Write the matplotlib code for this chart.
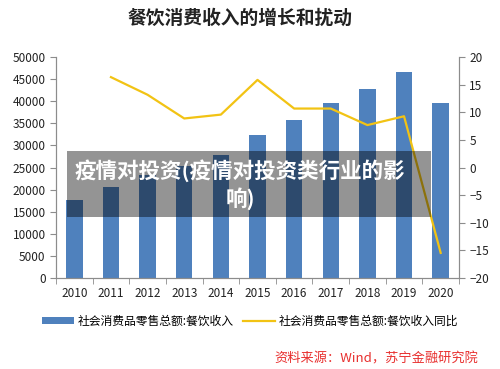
import matplotlib
matplotlib.use("Agg")
import matplotlib.pyplot as plt
from matplotlib.patches import Rectangle
import numpy as np

plt.rcParams['font.family'] = ['Noto Sans CJK SC', 'DejaVu Sans']

# data
years = ["2010", "2011", "2012", "2013", "2014", "2015", "2016", "2017", "2018", "2019", "2020"]
revenue = [17648, 20543, 23283, 25392, 27860, 32310, 35799, 39644, 42716, 46721, 39527]
growth_years = ["2011", "2012", "2013", "2014", "2015", "2016", "2017", "2018", "2019", "2020"]
growth = [16.4, 13.2, 8.9, 9.6, 15.9, 10.7, 10.7, 7.7, 9.3, -15.5]

bar_color = "#4f81bd"
line_color = "#f2c314"
axis_color = "#8c8c8c"

fig = plt.figure(figsize=(5, 3.69), dpi=100)
ax = fig.add_axes([0.112, 0.2474, 0.806, 0.5973])
ax2 = ax.twinx()

x = np.arange(len(years))
ax.bar(x, revenue, width=0.45, color=bar_color, label="社会消费品零售总额:餐饮收入")
gx = [years.index(y) for y in growth_years]
ax2.plot(gx, growth, color=line_color, lw=1.6, label="社会消费品零售总额:餐饮收入同比")

ax.set_xlim(-0.5, len(years) - 0.5)
ax.set_ylim(0, 50000)
ax.set_yticks(range(0, 50001, 5000))
ax2.set_ylim(-20, 20)
ax2.set_yticks(range(-20, 21, 5))

ax.set_xticks(x)
ax.set_xticklabels(years)
ax.set_xticks(np.arange(-0.5, len(years)), minor=True)
ax.tick_params(axis="x", which="major", length=0, pad=7, labelsize=8.5, colors="#222222")
ax.tick_params(axis="x", which="minor", length=4, color=axis_color, direction="out")
ax.tick_params(axis="y", length=4, color=axis_color, labelsize=8.5, labelcolor="#222222")
ax2.tick_params(axis="y", length=4, color=axis_color, labelsize=8.5, labelcolor="#222222")

for a in (ax, ax2):
    a.spines["top"].set_visible(False)
    for s in ("left", "right", "bottom"):
        a.spines[s].set_color(axis_color)
        a.spines[s].set_linewidth(0.8)

fig.text(0.48, 0.951, "餐饮消费收入的增长和扰动", ha="center", va="center",
         fontsize=13.5, fontweight="bold", color="#222222")

# legend
h1, l1 = ax.get_legend_handles_labels()
h2, l2 = ax2.get_legend_handles_labels()
fig.legend(h1 + h2, l1 + l2, loc="center", bbox_to_anchor=(0.5, 0.13), ncol=2,
           frameon=False, fontsize=8.5, handlelength=2.7, handleheight=0.6,
           columnspacing=0.8, handletextpad=0.3)

fig.text(0.956, 0.027, "资料来源：Wind，苏宁金融研究院", ha="right", va="center",
         fontsize=9.5, style="italic", color="#e8302f")

# overlay banner
fig.add_artist(Rectangle((0.134, 0.412), 0.728, 0.179, transform=fig.transFigure,
                         facecolor="black", alpha=0.42, edgecolor="none", zorder=5))
fig.text(0.48, 0.50, "疫情对投资(疫情对投资类行业的影\n响)", ha="center", va="center",
         fontsize=15.5, fontweight="bold", color="white", zorder=6, linespacing=1.25)

fig.savefig("out.png", dpi=100)
